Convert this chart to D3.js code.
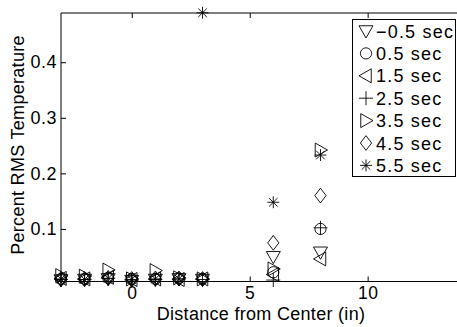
<!DOCTYPE html>
<html>
<head>
<meta charset="utf-8">
<script src="https://cdn.jsdelivr.net/npm/d3@7"></script>
<style>
  html, body { margin: 0; padding: 0; background: #fff; }
  svg { display: block; font-family: "Liberation Sans", Arial, Helvetica, sans-serif; }
</style>
</head>
<body>
<svg id="chart" width="457" height="327"></svg>
<script>
// Sensor positions along the plate (inches from center)
const positions = [-3, -2, -1, 0, 1, 2, 3, 6, 8];

// Percent RMS temperature at each position, one array per time snapshot
const seriesNeg05 = [0.008, 0.009, 0.010, 0.007, 0.009, 0.010, 0.009, 0.050, 0.058];
const series05    = [0.010, 0.010, 0.012, 0.010, 0.010, 0.011, 0.010, 0.022, 0.100];
const series15    = [0.011, 0.010, 0.013, 0.009, 0.010, 0.009, 0.010, 0.018, 0.046];
const series25    = [0.009, 0.009, 0.011, 0.008, 0.009, 0.010, 0.009, 0.008, 0.102];
const series35    = [0.016, 0.015, 0.026, 0.010, 0.025, 0.012, 0.010, 0.028, 0.242];
const series45    = [0.010, 0.010, 0.012, 0.010, 0.011, 0.011, 0.010, 0.075, 0.160];
const series55    = [0.010, 0.009, 0.011, 0.009, 0.010, 0.010, 0.489, 0.148, 0.233];

const seriesLabels = ["\u22120.5 sec", "0.5 sec", "1.5 sec", "2.5 sec", "3.5 sec", "4.5 sec", "5.5 sec"];
const seriesMarkers = ["triDown", "circle", "triLeft", "plus", "triRight", "diamond", "star"];
const seriesValues = [seriesNeg05, series05, series15, series25, series35, series45, series55];

const xTicks = [0, 5, 10];
const yTicks = [0.1, 0.2, 0.3, 0.4];

const svg = d3.select("#chart");
const plotLeft = 61, plotRight = 462, plotTop = 13, plotBottom = 281.5;

const x = d3.scaleLinear().domain([-3, 14]).range([plotLeft, plotRight]);
const y = d3.scaleLinear().domain([0.0054, 0.4886]).range([plotBottom, plotTop]);

// Marker path generators (centered at 0,0)
function markerPath(type, s) {
  const p = d3.path();
  switch (type) {
    case "triDown":
      p.moveTo(-s, -s * 0.75); p.lineTo(s, -s * 0.75); p.lineTo(0, s); p.closePath(); break;
    case "triLeft":
      p.moveTo(s * 0.75, -s); p.lineTo(s * 0.75, s); p.lineTo(-s, 0); p.closePath(); break;
    case "triRight":
      p.moveTo(-s * 0.75, -s); p.lineTo(-s * 0.75, s); p.lineTo(s, 0); p.closePath(); break;
    case "circle":
      p.moveTo(s * 0.8, 0); p.arc(0, 0, s * 0.8, 0, 2 * Math.PI); break;
    case "plus":
      p.moveTo(-s, 0); p.lineTo(s, 0); p.moveTo(0, -s); p.lineTo(0, s); break;
    case "diamond":
      p.moveTo(0, -s * 1.05); p.lineTo(s * 0.8, 0); p.lineTo(0, s * 1.05); p.lineTo(-s * 0.8, 0); p.closePath(); break;
    case "star": {
      const r = s * 0.85;
      p.moveTo(-r, 0); p.lineTo(r, 0);
      p.moveTo(0, -r); p.lineTo(0, r);
      const d = r * 0.72;
      p.moveTo(-d, -d); p.lineTo(d, d);
      p.moveTo(-d, d); p.lineTo(d, -d);
      break;
    }
  }
  return p.toString();
}

// Axes frame: left, top and bottom lines
svg.append("line").attr("x1", plotLeft).attr("x2", plotLeft).attr("y1", plotTop).attr("y2", plotBottom)
  .attr("stroke", "#000").attr("stroke-width", 1);
svg.append("line").attr("x1", plotLeft).attr("x2", 457).attr("y1", plotTop).attr("y2", plotTop)
  .attr("stroke", "#000").attr("stroke-width", 1);
svg.append("line").attr("x1", plotLeft).attr("x2", 457).attr("y1", plotBottom).attr("y2", plotBottom)
  .attr("stroke", "#000").attr("stroke-width", 1);

const fontSize = 18;

// Bottom axis (ticks point inward)
const xAxis = d3.axisBottom(x).tickValues(xTicks).tickSize(-5).tickPadding(5).tickFormat(d3.format("d"));
const gx = svg.append("g").attr("transform", `translate(0,${plotBottom})`).call(xAxis);
gx.select(".domain").remove();
gx.attr("font-family", null).attr("font-size", null);
gx.selectAll("text").attr("font-size", 17.5).attr("fill", "#000").attr("letter-spacing", 0.5);
gx.selectAll("line").attr("stroke", "#000");

// Top axis ticks
const xTop = d3.axisTop(x).tickValues(xTicks).tickSize(-5).tickFormat("");
const gxt = svg.append("g").attr("transform", `translate(0,${plotTop})`).call(xTop);
gxt.select(".domain").remove();
gxt.selectAll("line").attr("stroke", "#000");

// Left axis
const yAxis = d3.axisLeft(y).tickValues(yTicks).tickSize(-5).tickPadding(4).tickFormat(d3.format(".1f"));
const gy = svg.append("g").attr("transform", `translate(${plotLeft},0)`).call(yAxis);
gy.select(".domain").remove();
gy.attr("font-family", null).attr("font-size", null);
gy.selectAll("text").attr("font-size", fontSize).attr("fill", "#000").attr("letter-spacing", 0.5);
gy.selectAll("line").attr("stroke", "#000");

// Axis titles
svg.append("text").attr("x", 261).attr("y", 320).attr("text-anchor", "middle")
  .attr("font-size", fontSize).attr("letter-spacing", 0.3).attr("fill", "#000")
  .text("Distance from Center (in)");
svg.append("text").attr("transform", "translate(24,145) rotate(-90)").attr("text-anchor", "middle")
  .attr("font-size", fontSize).attr("letter-spacing", 0.3).attr("fill", "#000")
  .text("Percent RMS Temperature");

// Data markers
const markerSize = 7;
seriesValues.forEach((vals, i) => {
  svg.append("g").selectAll("path")
    .data(positions.map((p, j) => [p, vals[j]]))
    .join("path")
    .attr("transform", d => `translate(${x(d[0])},${y(d[1])})`)
    .attr("d", markerPath(seriesMarkers[i], markerSize))
    .attr("fill", "none")
    .attr("stroke", "#000")
    .attr("stroke-width", 0.9);
});

// Legend
const lg = svg.append("g");
lg.append("rect").attr("x", 352.5).attr("y", 19.5).attr("width", 103).attr("height", 157)
  .attr("fill", "#fff").attr("stroke", "#000").attr("stroke-width", 1);
seriesLabels.forEach((lab, i) => {
  const cy = 31 + i * 22.4;
  lg.append("path").attr("transform", `translate(366,${cy})`)
    .attr("d", markerPath(seriesMarkers[i], markerSize))
    .attr("fill", "none").attr("stroke", "#000").attr("stroke-width", 0.9);
  lg.append("text").attr("x", 376).attr("y", cy + 6.5).attr("font-size", fontSize)
    .attr("letter-spacing", 1.2).attr("fill", "#000").text(lab);
});
</script>
</body>
</html>
